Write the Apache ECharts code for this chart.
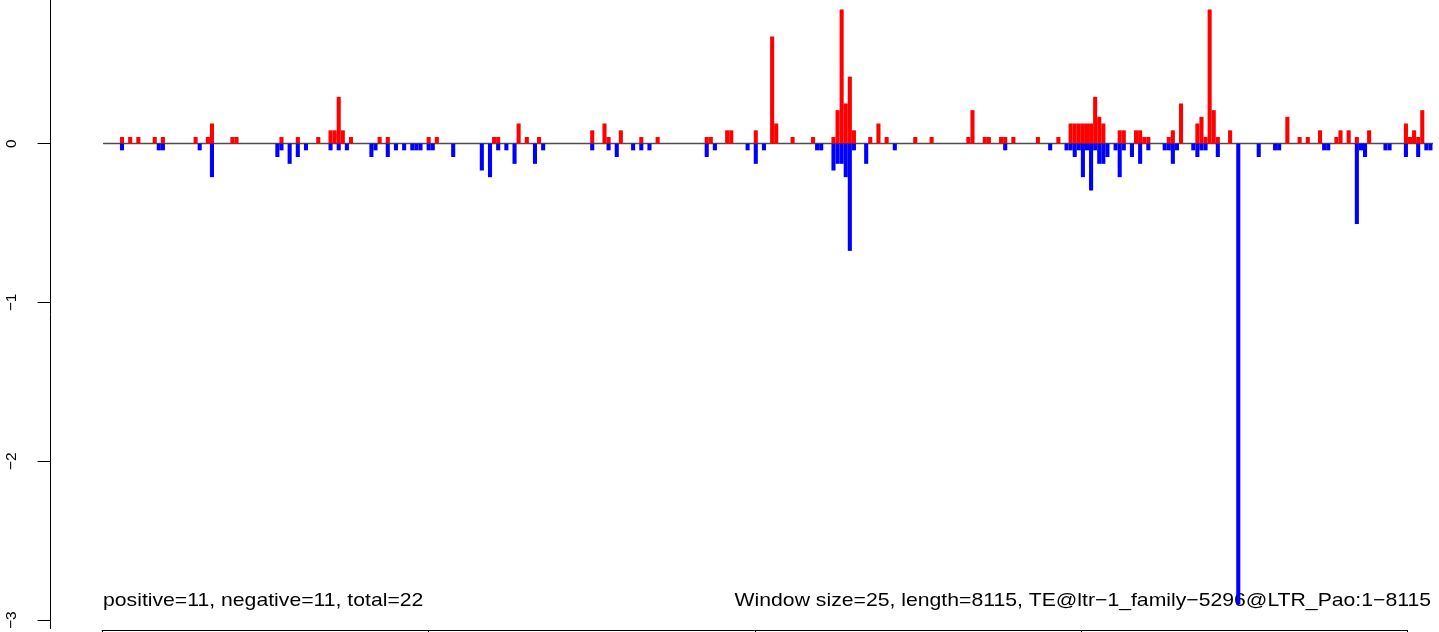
<!DOCTYPE html>
<html>
<head>
<meta charset="utf-8">
<script src="https://cdn.jsdelivr.net/npm/echarts/dist/echarts.min.js"></script>
<style>
  html, body { margin: 0; padding: 0; background: #ffffff; }
  #chart { width: 1439px; height: 632px; }
</style>
</head>
<body>
<div id="chart"></div>
<script>
// ---- data (window size 25 bp, 325 windows over 8115 bp) ----
const windowSize = 25;
const windowCount = 325;

// positive (red) values per window, rows of 25 windows
const positive = [
  0,0,0,0,.042,0,.042,0,.042,0,0,0,.042,0,.042,0,0,0,0,0,0,0,.042,0,0,
  .042,.127,0,0,0,0,.042,.042,0,0,0,0,0,0,0,0,0,0,.042,0,0,0,.042,0,0,
  0,0,.042,0,0,.084,.084,.295,.084,0,.042,0,0,0,0,0,0,.042,0,.042,0,0,0,0,0,
  0,0,0,0,.042,0,.042,0,0,0,0,0,0,0,0,0,0,0,0,0,.042,.042,0,0,0,
  0,.127,0,.042,0,0,.042,0,0,0,0,0,0,0,0,0,0,0,0,.084,0,0,.127,.042,0,
  0,.084,0,0,0,0,.042,0,0,0,.042,0,0,0,0,0,0,0,0,0,0,0,.042,.042,0,
  0,0,.084,.084,0,0,0,0,0,.084,0,0,0,.675,.127,0,0,0,.042,0,0,0,0,.042,0,
  0,0,0,.042,.211,.844,.253,.422,.084,0,0,0,.042,0,.127,0,.042,0,0,0,0,0,0,.042,0,
  0,0,.042,0,0,0,0,0,0,0,0,.042,.211,0,0,.042,.042,0,0,.042,.042,0,.042,0,0,
  0,0,0,.042,0,0,0,0,.042,0,0,.127,.127,.127,.127,.127,.127,.295,.169,.127,0,0,0,.084,.084,
  0,0,.084,.084,.042,.042,0,0,0,0,.042,.084,0,.253,0,0,0,.127,.169,.042,.844,.211,.042,0,0,
  .084,0,0,0,0,0,0,0,0,0,0,0,0,0,.169,0,0,.042,0,.042,0,0,.084,0,0,
  0,.042,.084,0,.084,0,.042,0,0,.084,0,0,0,0,0,0,0,0,.127,.042,.084,.042,.211,0,0
];

// negative (blue) values per window, rows of 25 windows
const negative = [
  0,0,0,0,-.042,0,0,0,0,0,0,0,0,-.042,-.042,0,0,0,0,0,0,0,0,-.042,0,
  0,-.211,0,0,0,0,0,0,0,0,0,0,0,0,0,0,0,-.084,-.042,0,-.127,0,-.084,0,-.042,
  0,0,0,0,0,-.042,0,-.042,0,-.042,0,0,0,0,0,-.084,-.042,0,0,-.084,0,-.042,0,-.042,0,
  -.042,-.042,-.042,0,-.042,-.042,0,0,0,0,-.084,0,0,0,0,0,0,-.169,0,-.211,0,-.042,0,-.042,0,
  -.127,0,0,0,0,-.127,0,-.042,0,0,0,0,0,0,0,0,0,0,0,-.042,0,0,0,-.042,0,
  -.084,0,0,0,-.042,0,-.042,0,-.042,0,0,0,0,0,0,0,0,0,0,0,0,0,-.084,0,-.042,
  0,0,0,0,0,0,0,-.042,0,-.127,0,-.042,0,0,0,0,0,0,0,0,0,0,0,0,-.042,
  -.042,0,0,-.169,-.127,-.127,-.211,-.675,-.042,0,0,-.127,0,0,0,0,0,0,-.042,0,0,0,0,0,0,
  0,0,0,0,0,0,0,0,0,0,0,0,0,0,0,0,0,0,0,0,-.042,0,0,0,0,
  0,0,0,0,0,0,-.042,0,0,0,-.042,-.042,-.084,-.042,-.211,-.042,-.295,-.042,-.127,-.127,-.084,0,-.042,-.211,-.042,
  0,-.084,0,-.127,0,-.042,0,0,0,-.042,-.042,-.127,-.042,0,0,0,-.042,-.084,-.042,-.042,0,0,-.084,0,0,
  0,0,-2.9,0,0,0,0,-.084,0,0,0,-.042,-.042,0,0,0,0,0,0,0,0,0,0,-.042,-.042,
  0,0,0,0,0,0,-.506,-.042,-.084,0,0,0,0,-.042,-.042,0,0,0,-.084,0,0,-.084,0,-.042,-.042
];

const yTicks = [0, -1, -2, -3];
const xTicks = [0, 2000, 4000, 6000, 8000];
const leftNote = 'positive=11, negative=11, total=22';
const rightNote = 'Window size=25, length=8115, TE@ltr\u22121_family\u22125296@LTR_Pao:1\u22128115';

// window start positions as categories
const windows = [];
for (let i = 0; i < windowCount; i++) windows.push(i * windowSize + 1);

const chart = echarts.init(document.getElementById('chart'), null, { renderer: 'canvas', width: 1439, height: 632 });

const fontFam = '"Liberation Sans", Arial, Helvetica, sans-serif';

const option = {
  animation: false,
  grid: [
    { left: 103.6, right: 6.5, top: 0, bottom: 2 },
    { left: 102, right: 31.5, bottom: 1.5, height: 4 }
  ],
  xAxis: [
    {
      gridIndex: 0, type: 'category', data: windows, boundaryGap: true,
      axisLine: { show: true, onZero: true, lineStyle: { color: '#4d4d4d', width: 1.3 } },
      axisTick: { show: false }, axisLabel: { show: false }, splitLine: { show: false }
    },
    {
      gridIndex: 1, type: 'value', position: 'bottom',
      min: xTicks[0], max: xTicks[xTicks.length - 1], interval: 2000,
      axisLine: { show: true, onZero: false, lineStyle: { color: '#000', width: 1 } },
      axisTick: { show: true, length: 12, lineStyle: { color: '#000', width: 1 } },
      axisLabel: { show: false }, splitLine: { show: false }
    }
  ],
  yAxis: [
    {
      // value scale of the bars; drawn as the left axis, moved out to x = 50.5
      gridIndex: 0, type: 'value', position: 'left', offset: 53,
      min: -3.053, max: 0.9045,
      axisLine: { show: true, onZero: false, lineStyle: { color: '#000', width: 1 } },
      axisTick: { show: true, length: 13, customValues: yTicks, lineStyle: { color: '#000', width: 1 } },
      axisLabel: {
        show: true, rotate: 90, margin: 31, color: '#000', fontSize: 15.5,
        customValues: yTicks,
        formatter: v => (v === 0 ? '0' : '\u2212' + Math.abs(v))
      },
      splitLine: { show: false }
    },
    { gridIndex: 1, type: 'value', min: 0, max: 1, show: false }
  ],
  series: [
    {
      name: 'positive', type: 'bar', xAxisIndex: 0, yAxisIndex: 0,
      data: positive, barCategoryGap: '0%', barGap: '-100%',
      itemStyle: { color: '#ff0000' }, z: 3
    },
    {
      name: 'negative', type: 'bar', xAxisIndex: 0, yAxisIndex: 0,
      data: negative, barCategoryGap: '0%', barGap: '-100%',
      itemStyle: { color: '#0000ff' }, z: 3
    }
  ],
  graphic: [
    {
      type: 'text', x: 103, y: 601, scaleX: 1.14, z: 1,
      style: { text: leftNote, fontSize: 18.6, fontFamily: fontFam, fill: '#000', align: 'left', verticalAlign: 'middle' }
    },
    {
      type: 'text', x: 1431, y: 601, scaleX: 1.14, z: 1,
      style: { text: rightNote, fontSize: 18.6, fontFamily: fontFam, fill: '#000', align: 'right', verticalAlign: 'middle' }
    }
  ]
};

chart.setOption(option);
</script>
</body>
</html>
